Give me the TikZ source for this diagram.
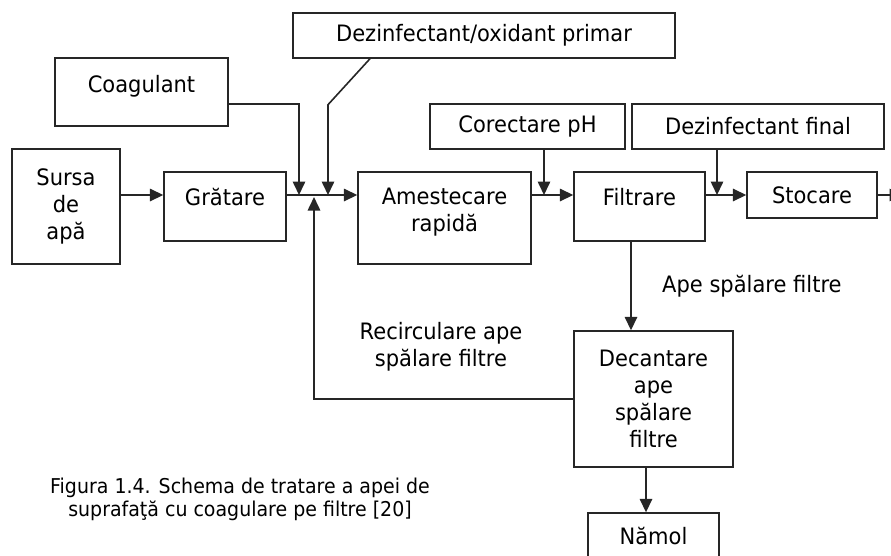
\documentclass[tikz,border=0pt]{standalone}
\usepackage{fontspec}
\setmainfont[FakeStretch=0.93]{DejaVu Sans}
\usetikzlibrary{arrows.meta}
\definecolor{aplinie}{HTML}{262626}
\tikzset{
  apbloc/.style={draw=aplinie, line width=1.4pt, inner sep=0pt, align=center,
                 font=\fontsize{22.6}{27}\selectfont},
  apseta/.style={-{Triangle[length=13.5pt,width=12.5pt]}, line width=1.6pt, draw=aplinie},
  aprotulo/.style={font=\fontsize{22.6}{27}\selectfont, align=center, inner sep=0pt},
}

\begin{document}
\begin{tikzpicture}[x=1pt, y=-1pt,
    ridica/.style={text height=16pt, text depth=#1}
  ]
  \useasboundingbox (0,0) rectangle (891,555);
  \coordinate (axa) at (0,195);
  % linia principala
  \node[apbloc, minimum width=108pt, minimum height=115pt] (sursa) at (66,206.5) {Sursa\\de\\apă};
  \node[apbloc, ridica=17.6pt, minimum width=122pt, minimum height=69pt] (grat) at (225,206.5) {Grătare};
  \node[apbloc, text depth=16.8pt, minimum width=173pt, minimum height=92pt] (amest) at (444.5,218) {Amestecare\\rapidă};
  \node[apbloc, ridica=17.6pt, minimum width=131pt, minimum height=69pt] (filt) at (639.5,206.5) {Filtrare};
  \node[apbloc, minimum width=130pt, minimum height=46pt] (stoc) at (812,195) {Stocare};
  % reactivi
  \node[apbloc, ridica=15.6pt, minimum width=173pt, minimum height=68pt] (coag) at (141.5,92) {Coagulant};
  \node[apbloc, minimum width=382pt, minimum height=45pt] (dprim) at (484,35.5) {Dezinfectant/oxidant primar};
  \node[apbloc, minimum width=195pt, minimum height=45pt] (corph) at (527.5,126.5) {Corectare pH};
  \node[apbloc, minimum width=252pt, minimum height=45pt] (dfin) at (758,126.5) {Dezinfectant final};
  % ape de spalare
  \node[apbloc, minimum width=159pt, minimum height=136pt] (decant) at (653.5,399) {Decantare\\ape\\spălare\\filtre};
  \node[apbloc, minimum width=131pt, minimum height=46pt] (namol) at (653.5,536) {Nămol};
  \coordinate (nodcoag) at (299,195);
  \coordinate (noddez) at (328,195);
  \coordinate (nodrec) at (314,197);
  \coordinate (iesire) at (903,195);
  \draw[apseta] (sursa.east |- axa) -- (grat.west |- axa);
  \draw[apseta] (grat.east |- axa) -- (amest.west |- axa);
  \draw[apseta] (amest.east |- axa) -- (filt.west |- axa);
  \draw[apseta] (filt.east |- axa) -- (stoc.west);
  \draw[apseta] (stoc.east) -- (iesire);
  \draw[apseta] ([yshift=-12pt]coag.east) -| (nodcoag);
  \draw[apseta] ([xshift=-114pt]dprim.south) -- ++(-42,46) -- (noddez);
  \draw[apseta] ([xshift=16.5pt]corph.south) -- ([xshift=16.5pt]corph.south |- axa);
  \draw[apseta] ([xshift=-41pt]dfin.south) -- ([xshift=-41pt]dfin.south |- axa);
  \draw[apseta] ([xshift=-8.5pt]filt.south) -- ([xshift=-8.5pt]filt.south |- decant.north);
  \draw[apseta] ([xshift=-7.5pt]decant.south) -- ([xshift=-7.5pt]decant.south |- namol.north);
  \draw[apseta] (decant.west) -| (nodrec);
  \node[aprotulo, anchor=west] (etape) at (662,286) {Ape spălare filtre};
  \node[aprotulo] (etrec) at (441,346.5) {Recirculare ape\\spălare filtre};
  \node[aprotulo, font=\fontsize{20.4}{23}\selectfont] (figura) at (240,499.5) {Figura 1.4. Schema de tratare a apei de\\suprafaţă cu coagulare pe filtre [20]};
\end{tikzpicture}
\end{document}
